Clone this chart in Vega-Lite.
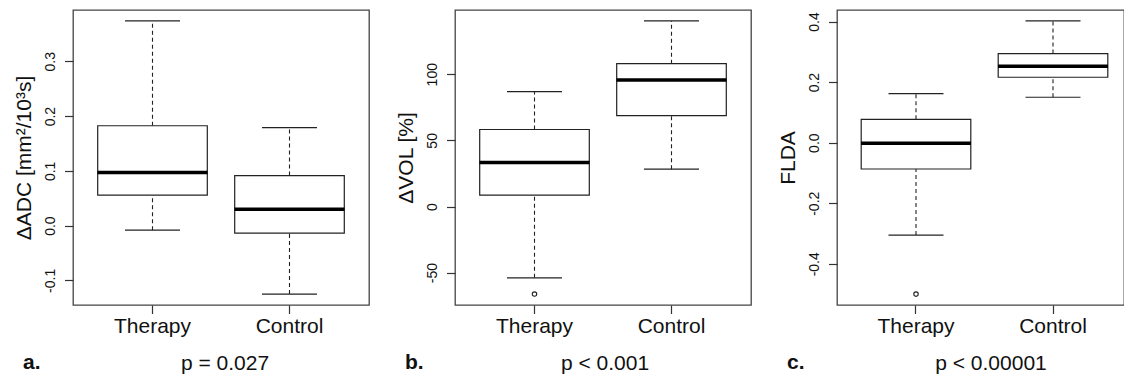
{
  "$schema": "https://vega.github.io/schema/vega-lite/v6.json",
  "padding": {"left": 12, "top": 9, "right": 0, "bottom": 0},
  "background": "white",
  "spacing": 86,
  "bounds": "flush",
  "config": {
    "font": "Liberation Sans",
    "view": {"stroke": "#444", "strokeWidth": 1.3},
    "tick": {"opacity": 1},
    "axis": {"grid": false, "domain": false, "tickColor": "#333", "tickWidth": 1.2, "tickSize": 8.5, "labelColor": "#111", "titleColor": "#111", "titleFontWeight": "normal", "labelOverlap": false},
    "axisY": {"labelAngle": 270, "labelAlign": "center", "labelBaseline": "alphabetic", "labelPadding": 10, "labelFontSize": 14, "titleFontSize": 21, "titleAngle": 270, "titleX": -49, "titleY": 147.5, "titleBaseline": "middle", "titleAlign": "center"},
    "axisX": {"labelFontSize": 21, "labelAngle": 0, "labelBaseline": "alphabetic", "labelPadding": 18.5, "titleFontSize": 21, "titleY": 64, "titleBaseline": "alphabetic", "titleAlign": "center"},
    "title": {"orient": "bottom", "anchor": "start", "frame": "group", "fontSize": 21, "fontWeight": "bold", "baseline": "alphabetic", "offset": 0, "dx": -50, "dy": -25, "color": "#111"}
  },
  "hconcat": [
    {
      "width": 296, "height": 295,
      "title": {"text": "a."},
      "data": {"values": [
        {"group": "Therapy", "min": -0.0084, "q1": 0.0556, "median": 0.0969, "q3": 0.1823, "max": 0.3737},
        {"group": "Control", "min": -0.125, "q1": -0.0139, "median": 0.030, "q3": 0.0914, "max": 0.179}
      ]},
      "encoding": {
        "x": {"field": "group", "type": "nominal", "sort": ["Therapy", "Control"], "scale": {"type": "band", "paddingInner": 0.2, "paddingOuter": 0.1803}, "axis": {"title": "p = 0.027", "titleX": 151.5}}
      },
      "layer": [
        {"mark": {"type": "rule", "strokeDash": [4, 3], "stroke": "#222", "strokeWidth": 1.1},
         "encoding": {"y": {"field": "min", "type": "quantitative", "scale": {"domain": [-0.145, 0.3937], "nice": false, "zero": false}, "axis": {"title": "ΔADC [mm²/10³s]", "values": [-0.1, 0, 0.1, 0.2, 0.3], "labelExpr": "replace(format(datum.value, '.1f'), '−', '-')"}}, "y2": {"field": "q1"}}},
        {"mark": {"type": "rule", "strokeDash": [4, 3], "stroke": "#222", "strokeWidth": 1.1},
         "encoding": {"y": {"field": "q3", "type": "quantitative"}, "y2": {"field": "max"}}},
        {"mark": {"type": "tick", "orient": "horizontal", "size": 55, "thickness": 1.2, "color": "#222", "opacity": 1},
         "encoding": {"y": {"field": "min", "type": "quantitative"}}},
        {"mark": {"type": "tick", "orient": "horizontal", "size": 55, "thickness": 1.2, "color": "#222", "opacity": 1},
         "encoding": {"y": {"field": "max", "type": "quantitative"}}},
        {"mark": {"type": "bar", "fill": "white", "stroke": "#222", "strokeWidth": 1.2, "opacity": 1},
         "encoding": {"y": {"field": "q1", "type": "quantitative"}, "y2": {"field": "q3"}}},
        {"mark": {"type": "tick", "orient": "horizontal", "size": 110, "thickness": 3.5, "color": "#000", "opacity": 1},
         "encoding": {"y": {"field": "median", "type": "quantitative"}}}
      ]
    },
    {
      "width": 296, "height": 295,
      "title": {"text": "b."},
      "data": {"values": [
        {"group": "Therapy", "min": -53.9, "q1": 8.6, "median": 33.2, "q3": 58.2, "max": 86.9},
        {"group": "Control", "min": 28.2, "q1": 68.7, "median": 95.7, "q3": 108.0, "max": 140.3}
      ]},
      "encoding": {
        "x": {"field": "group", "type": "nominal", "sort": ["Therapy", "Control"], "scale": {"type": "band", "paddingInner": 0.2, "paddingOuter": 0.1803}, "axis": {"title": "p < 0.001", "titleX": 149.5}}
      },
      "layer": [
        {"mark": {"type": "rule", "strokeDash": [4, 3], "stroke": "#222", "strokeWidth": 1.1},
         "encoding": {"y": {"field": "min", "type": "quantitative", "scale": {"domain": [-74.46, 148.56], "nice": false, "zero": false}, "axis": {"title": "ΔVOL [%]", "values": [-50, 0, 50, 100], "labelExpr": "replace(format(datum.value, 'd'), '−', '-')"}}, "y2": {"field": "q1"}}},
        {"mark": {"type": "rule", "strokeDash": [4, 3], "stroke": "#222", "strokeWidth": 1.1},
         "encoding": {"y": {"field": "q3", "type": "quantitative"}, "y2": {"field": "max"}}},
        {"mark": {"type": "tick", "orient": "horizontal", "size": 55, "thickness": 1.2, "color": "#222", "opacity": 1},
         "encoding": {"y": {"field": "min", "type": "quantitative"}}},
        {"mark": {"type": "tick", "orient": "horizontal", "size": 55, "thickness": 1.2, "color": "#222", "opacity": 1},
         "encoding": {"y": {"field": "max", "type": "quantitative"}}},
        {"mark": {"type": "bar", "fill": "white", "stroke": "#222", "strokeWidth": 1.2, "opacity": 1},
         "encoding": {"y": {"field": "q1", "type": "quantitative"}, "y2": {"field": "q3"}}},
        {"mark": {"type": "tick", "orient": "horizontal", "size": 110, "thickness": 3.5, "color": "#000", "opacity": 1},
         "encoding": {"y": {"field": "median", "type": "quantitative"}}},
        {"data": {"values": [{"group": "Therapy", "value": -66.2}]},
         "mark": {"type": "point", "shape": "circle", "size": 20, "filled": false, "stroke": "#222", "strokeWidth": 1.1, "opacity": 1},
         "encoding": {"y": {"field": "value", "type": "quantitative"}}}
      ]
    },
    {
      "width": 287, "height": 295,
      "title": {"text": "c."},
      "data": {"values": [
        {"group": "Therapy", "min": -0.305, "q1": -0.087, "median": -0.002, "q3": 0.077, "max": 0.162},
        {"group": "Control", "min": 0.150, "q1": 0.216, "median": 0.252, "q3": 0.294, "max": 0.402}
      ]},
      "encoding": {
        "x": {"field": "group", "type": "nominal", "sort": ["Therapy", "Control"], "scale": {"type": "band", "paddingInner": 0.2, "paddingOuter": 0.1474, "align": 0.599}, "axis": {"title": "p < 0.00001", "titleX": 153.5}}
      },
      "layer": [
        {"mark": {"type": "rule", "strokeDash": [4, 3], "stroke": "#222", "strokeWidth": 1.1},
         "encoding": {"y": {"field": "min", "type": "quantitative", "scale": {"domain": [-0.536, 0.438], "nice": false, "zero": false}, "axis": {"title": "FLDA", "values": [-0.4, -0.2, 0, 0.2, 0.4], "labelExpr": "replace(format(datum.value, '.1f'), '−', '-')"}}, "y2": {"field": "q1"}}},
        {"mark": {"type": "rule", "strokeDash": [4, 3], "stroke": "#222", "strokeWidth": 1.1},
         "encoding": {"y": {"field": "q3", "type": "quantitative"}, "y2": {"field": "max"}}},
        {"mark": {"type": "tick", "orient": "horizontal", "size": 55, "thickness": 1.2, "color": "#222", "opacity": 1},
         "encoding": {"y": {"field": "min", "type": "quantitative"}}},
        {"mark": {"type": "tick", "orient": "horizontal", "size": 55, "thickness": 1.2, "color": "#222", "opacity": 1},
         "encoding": {"y": {"field": "max", "type": "quantitative"}}},
        {"mark": {"type": "bar", "fill": "white", "stroke": "#222", "strokeWidth": 1.2, "opacity": 1},
         "encoding": {"y": {"field": "q1", "type": "quantitative"}, "y2": {"field": "q3"}}},
        {"mark": {"type": "tick", "orient": "horizontal", "size": 110, "thickness": 3.5, "color": "#000", "opacity": 1},
         "encoding": {"y": {"field": "median", "type": "quantitative"}}},
        {"data": {"values": [{"group": "Therapy", "value": -0.5}]},
         "mark": {"type": "point", "shape": "circle", "size": 20, "filled": false, "stroke": "#222", "strokeWidth": 1.1, "opacity": 1},
         "encoding": {"y": {"field": "value", "type": "quantitative"}}}
      ]
    }
  ]
}
